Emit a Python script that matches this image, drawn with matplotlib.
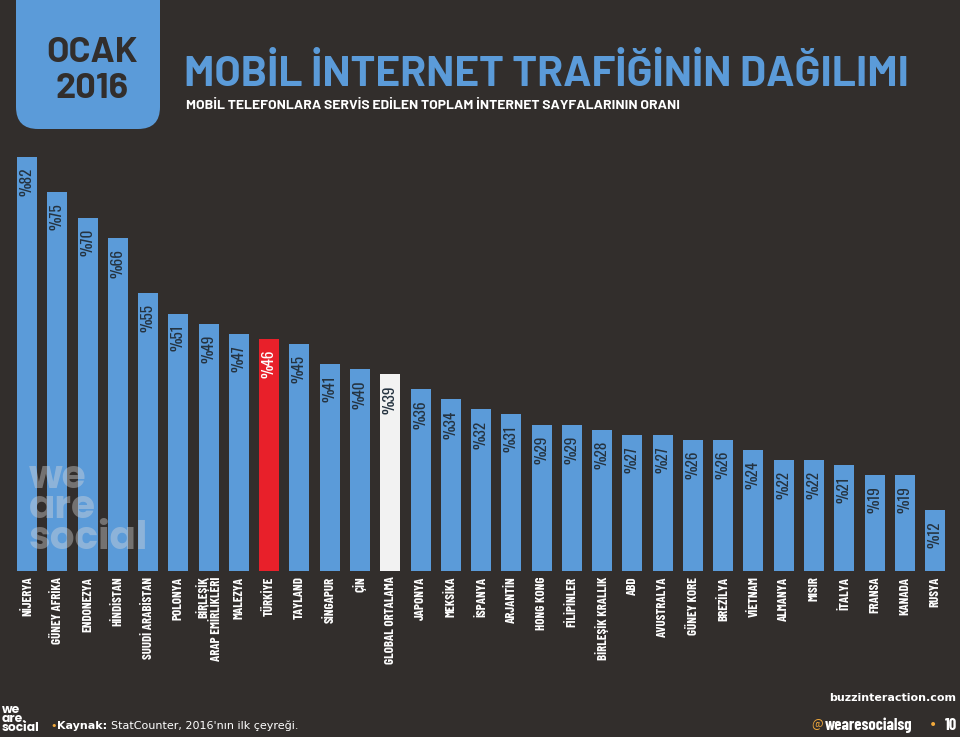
import matplotlib
matplotlib.use("Agg")
import matplotlib.pyplot as plt
from matplotlib.patches import FancyBboxPatch

categories = ["NİJERYA", "GÜNEY AFRİKA", "ENDONEZYA", "HİNDİSTAN", "SUUDİ ARABİSTAN",
              "POLONYA", "BİRLEŞİK\nARAP EMİRLİKLERİ", "MALEZYA", "TÜRKİYE", "TAYLAND",
              "SİNGAPUR", "ÇİN", "GLOBAL ORTALAMA", "JAPONYA", "MEKSİKA", "İSPANYA",
              "ARJANTİN", "HONG KONG", "FİLİPİNLER", "BİRLEŞİK KRALLIK", "ABD",
              "AVUSTRALYA", "GÜNEY KORE", "BREZİLYA", "VİETNAM", "ALMANYA", "MISIR",
              "İTALYA", "FRANSA", "KANADA", "RUSYA"]
values = [82, 75, 70, 66, 55, 51, 49, 47, 46, 45, 41, 40, 39, 36, 34, 32, 31, 29, 29,
          28, 27, 27, 26, 26, 24, 22, 22, 21, 19, 19, 12]
value_labels = ["%" + str(v) for v in values]

BG = "#322e2c"
BLUE = "#5b9bd9"
RED = "#e8202a"
WHITE_BAR = "#f2f2f2"
DARK_TXT = "#253340"
ORANGE = "#f2a93b"

NARROW = ["Barlow Condensed", "DejaVu Sans"]
WIDE = ["Barlow", "Barlow Semi Condensed", "DejaVu Sans"]
VALF = ["Oswald", "Antonio", "Barlow Condensed", "DejaVu Sans"]
ROUND = ["Poppins", "Lato", "DejaVu Sans"]

W, H = 960, 737
fig = plt.figure(figsize=(W / 100, H / 100), dpi=100, facecolor=BG)

# header
tab = fig.add_axes([0, 0, 1, 1], facecolor="none")
tab.set_xlim(0, W)
tab.set_ylim(H, 0)
tab.axis("off")
tab.add_patch(FancyBboxPatch((16, -40), 144, 169, boxstyle="round,pad=0,rounding_size=22",
                             facecolor=BLUE, edgecolor="none"))
tab.text(92, 53, "OCAK", ha="center", va="center", fontsize=26, fontweight="bold",
         family=WIDE, color=BG)
tab.text(92, 89, "2016", ha="center", va="center", fontsize=26, fontweight="bold",
         family=WIDE, color=BG)
tab.text(184, 74, "MOBİL İNTERNET TRAFİĞİNİN DAĞILIMI", ha="left", va="center",
         fontsize=30.5, fontweight="bold", family=WIDE, color=BLUE)
tab.text(186, 105, "MOBİL TELEFONLARA SERVİS EDİLEN TOPLAM İNTERNET SAYFALARININ ORANI",
         ha="left", va="center", fontsize=10, fontweight="bold", family=WIDE, color="white")

# bars
step = 30.27
x0 = -27 / step
ax = fig.add_axes([0, (H - 571) / H, 1, 414 / H], facecolor="none")
ax.set_xlim(x0, x0 + W / step)
ax.set_ylim(0, 82)
ax.axis("off")

colors = []
for c in categories:
    if c == "TÜRKİYE":
        colors.append(RED)
    elif c == "GLOBAL ORTALAMA":
        colors.append(WHITE_BAR)
    else:
        colors.append(BLUE)
xs = list(range(len(values)))
ax.bar(xs, values, width=20 / step, color=colors, edgecolor="none")

for x, v, lab, c in zip(xs, values, value_labels, categories):
    tc = "white" if c == "TÜRKİYE" else DARK_TXT
    ax.annotate(lab, (x, v), xytext=(0, -8), textcoords="offset points",
                rotation=90, ha="center", va="top", fontsize=11, family=VALF, color=tc)
    ax.annotate(c, (x, 0), xytext=(0, -4), textcoords="offset points",
                rotation=90, ha="center", va="top", multialignment="right",
                fontsize=9.3, fontweight="bold", family=NARROW, color="white",
                annotation_clip=False, linespacing=1.05)

# watermark on top of bars
fig.text(29 / W, 1 - 509 / H, "we\nare\nsocial", ha="left", va="center", fontsize=28,
         fontweight="bold", family=ROUND, color="#d9d9d9", alpha=0.4, linespacing=0.7,
         zorder=5)

# footer
fig.text(2 / W, 1 - 719 / H, "we\nare.\nsocial", ha="left", va="center", fontsize=8.8,
         fontweight="bold", family=ROUND, color="white", linespacing=0.68)
fig.canvas.draw()
r = fig.canvas.get_renderer()
fig.text(50 / W, 1 - 726 / H, "•", ha="left", va="center", fontsize=8, color=ORANGE)
t1 = fig.text(57 / W, 1 - 726 / H, "Kaynak:", ha="left", va="center", fontsize=8,
              fontweight="bold", family=["DejaVu Sans"], color="white")
bb = t1.get_window_extent(renderer=r)
fig.text((bb.x1 + 4) / W, 1 - 726 / H, "StatCounter, 2016'nın ilk çeyreği.", ha="left",
         va="center", fontsize=8, family=["DejaVu Sans"], color="white")
fig.text(956 / W, 1 - 698 / H, "buzzinteraction.com", ha="right", va="center", fontsize=8,
         fontweight="bold", family=["DejaVu Sans"], color="white")
fig.text(811 / W, 1 - 725 / H, "@", ha="left", va="center", fontsize=11, family=NARROW,
         color=ORANGE)
fig.text(825 / W, 1 - 725 / H, "wearesocialsg", ha="left", va="center", fontsize=12,
         fontweight="bold", family=NARROW, color="white")
fig.text(929 / W, 1 - 725 / H, "•", ha="left", va="center", fontsize=10, color=ORANGE)
fig.text(957 / W, 1 - 725 / H, "10", ha="right", va="center", fontsize=12,
         fontweight="bold", family=NARROW, color="white")

fig.savefig("out.png", dpi=100, facecolor=BG)
